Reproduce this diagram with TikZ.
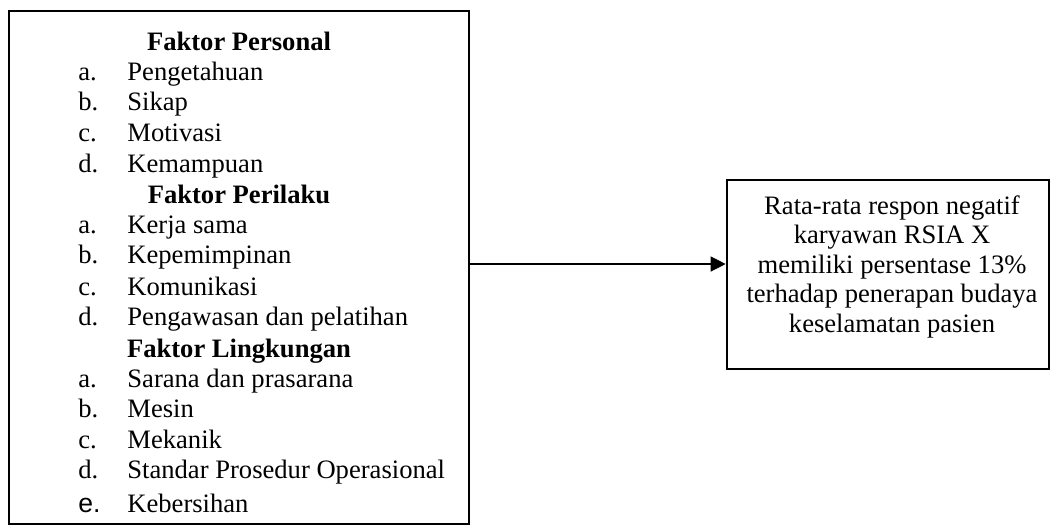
\documentclass[tikz,border=0pt]{standalone}
\usepackage{fontspec}
\setmainfont{Liberation Serif}
\newfontfamily\arialfont{Liberation Sans}
\usetikzlibrary{arrows.meta,fit}
\begin{document}
\begin{tikzpicture}[x=0.5pt,y=-0.5pt,
  txt/.style={inner sep=0pt,font=\fontsize{13.3}{15}\selectfont},
  lbl/.style={txt,anchor=base west},
  head/.style={txt,anchor=base,font=\fontsize{13.3}{15}\selectfont\bfseries},
  boxframe/.style={draw,line width=1.3pt,inner sep=0pt},
  conn/.style={line width=0.6pt,-{Triangle[length=7.5pt,width=7.5pt]}}]
\useasboundingbox (0,0) rectangle (1057,527);
% frames
\coordinate (l1) at (9,11);
\coordinate (l2) at (469,524);
\node[boxframe,fit=(l1)(l2)] (leftbox) {};
\coordinate (r1) at (727,180);
\coordinate (r2) at (1049,369);
\node[boxframe,fit=(r1)(r2)] (rightbox) {};
% left texts
\node[head] (h1) at (239,50) {Faktor Personal};
\node[lbl] (a1) at (78,80) {a.};  \node[lbl] (t1) at (127,80) {Pengetahuan};
\node[lbl] (b1) at (78,110) {b.}; \node[lbl] (t2) at (127,110) {Sikap};
\node[lbl] (c1) at (78,141) {c.}; \node[lbl] (t3) at (127,141) {Motivasi};
\node[lbl] (d1) at (78,172) {d.}; \node[lbl] (t4) at (127,172) {Kemampuan};
\node[head] (h2) at (239,203) {Faktor Perilaku};
\node[lbl] (a2) at (78,233) {a.};  \node[lbl] (t5) at (127,233) {Kerja sama};
\node[lbl] (b2) at (78,263) {b.}; \node[lbl] (t6) at (127,263) {Kepemimpinan};
\node[lbl] (c2) at (78,295) {c.}; \node[lbl] (t7) at (127,295) {Komunikasi};
\node[lbl] (d2) at (78,325) {d.}; \node[lbl] (t8) at (127,325) {Pengawasan dan pelatihan};
\node[head] (h3) at (239,357) {Faktor Lingkungan};
\node[lbl] (a3) at (78,387) {a.};  \node[lbl] (t9) at (127,387) {Sarana dan prasarana};
\node[lbl] (b3) at (78,417) {b.}; \node[lbl] (t10) at (127,417) {Mesin};
\node[lbl] (c3) at (78,448) {c.}; \node[lbl] (t11) at (127,448) {Mekanik};
\node[lbl] (d3) at (78,478) {d.}; \node[lbl] (t12) at (127,478) {Standar Prosedur Operasional};
\node[lbl,font=\fontsize{13.3}{15}\selectfont\arialfont] (e3) at (78,512) {e.}; \node[lbl] (t13) at (127,512) {Kebersihan};
% right texts
\node[txt,anchor=base] (r1t) at (892,214) {Rata-rata respon negatif};
\node[txt,anchor=base] (r2t) at (892,243) {karyawan RSIA X};
\node[txt,anchor=base] (r3t) at (892,273) {memiliki persentase 13\%};
\node[txt,anchor=base] (r4t) at (892,302) {terhadap penerapan budaya};
\node[txt,anchor=base] (r5t) at (892,332) {keselamatan pasien};
% connector
\coordinate (arr) at (600,264);
\draw[conn] (leftbox.east |- arr) -- (rightbox.west |- arr);
\end{tikzpicture}
\end{document}
